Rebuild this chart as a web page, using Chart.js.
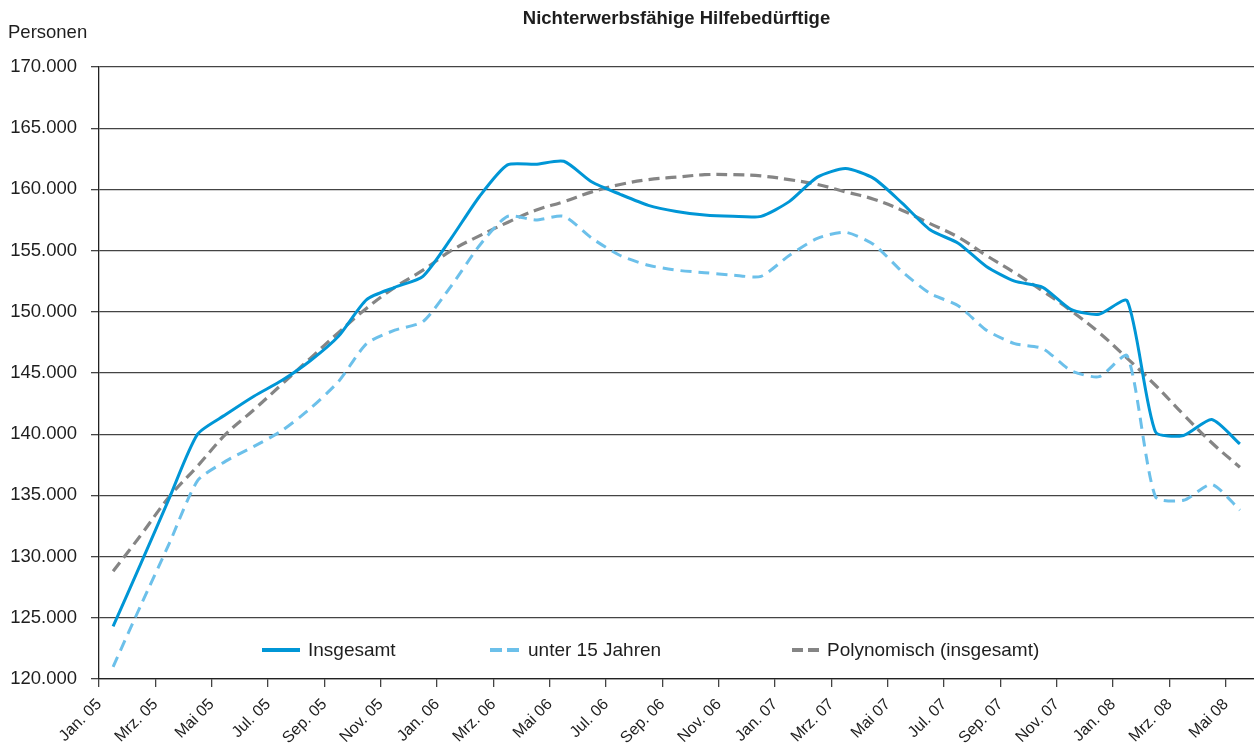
<!DOCTYPE html>
<html>
<head>
<meta charset="utf-8">
<script src="https://cdn.jsdelivr.net/npm/chart.js@4.4.1/dist/chart.umd.min.js"></script>
<style>
  html, body { margin: 0; padding: 0; background: #ffffff; }
  #wrap { width: 1254px; height: 752px; position: relative; }
</style>
</head>
<body>
<div id="wrap"><canvas id="c" width="1254" height="752"></canvas></div>
<script>
// ---- data ----
const chartTitle = 'Nichterwerbsfähige Hilfebedürftige';
const yAxisTitle = 'Personen';
const months = [
  'Jan. 05','Feb. 05','Mrz. 05','Apr. 05','Mai 05','Jun. 05','Jul. 05','Aug. 05','Sep. 05','Okt. 05','Nov. 05','Dez. 05',
  'Jan. 06','Feb. 06','Mrz. 06','Apr. 06','Mai 06','Jun. 06','Jul. 06','Aug. 06','Sep. 06','Okt. 06','Nov. 06','Dez. 06',
  'Jan. 07','Feb. 07','Mrz. 07','Apr. 07','Mai 07','Jun. 07','Jul. 07','Aug. 07','Sep. 07','Okt. 07','Nov. 07','Dez. 07',
  'Jan. 08','Feb. 08','Mrz. 08','Apr. 08','Mai 08'
];
const seriesNames = ['Insgesamt', 'unter 15 Jahren', 'Polynomisch (insgesamt)'];
const insgesamt = [
  124300, 129500, 134800, 140000, 141600, 143100, 144400, 146000, 148000, 151000, 152000, 152900,
  156000, 159400, 162000, 162050, 162300, 160600, 159600, 158700, 158200, 157900, 157800, 157800,
  159000, 161000, 161700, 160900, 158900, 156700, 155600, 153700, 152500, 152000, 150200, 149800,
  150900, 140200, 139900, 141200, 139200
];
const unter15 = [
  121000, 126100, 131100, 136200, 137800, 139000, 140300, 142100, 144300, 147400, 148500, 149200,
  152100, 155400, 157800, 157500, 157800, 156000, 154600, 153800, 153400, 153200, 153000, 152900,
  154600, 156000, 156500, 155500, 153300, 151500, 150500, 148500, 147400, 147000, 145200, 144700,
  146400, 134900, 134600, 135900, 133800
];
const polynomisch = [
  128800, 131800, 134900, 137400, 140000, 142000, 144100, 146200, 148300, 150300, 152000, 153400,
  155000, 156200, 157300, 158300, 159000, 159800, 160400, 160800, 161000, 161200, 161200, 161100,
  160800, 160400, 159800, 159200, 158300, 157200, 156100, 154600, 153200, 151700, 150100, 148300,
  146200, 144000, 141600, 139300, 137300
];
const yMin = 120000, yMax = 170000, yStep = 5000;

// ---- styles ----
const FONT = "'Liberation Sans', Arial, Helvetica, sans-serif";
const TEXT = '#1e1e1e';
const GRID = '#444444';
const C_BLUE = '#0096d6';
const C_LIGHT = '#6cc0ea';
const C_GRAY = '#858585';

function fmt(v) {
  return String(Math.round(v)).replace(/\B(?=(\d{3})+(?!\d))/g, '.');
}

const overlay = {
  id: 'overlay',
  afterDraw(chart) {
    const ctx = chart.ctx;
    const ca = chart.chartArea;
    ctx.save();
    // title centred over plot area
    ctx.fillStyle = TEXT;
    ctx.font = 'bold 18.5px ' + FONT;
    ctx.textAlign = 'center';
    ctx.textBaseline = 'middle';
    ctx.fillText(chartTitle, (ca.left + ca.right) / 2, 19);
    // y axis caption
    ctx.font = '18.5px ' + FONT;
    ctx.textAlign = 'left';
    ctx.fillText(yAxisTitle, 8, 33);
    // legend inside plot
    const ly = 650;
    const items = [
      { x: 262, w: 38, color: C_BLUE, dash: [], lw: 4 },
      { x: 490, w: 30, color: C_LIGHT, dash: [12, 5], lw: 4 },
      { x: 792, w: 27, color: C_GRAY, dash: [11, 5], lw: 4 }
    ];
    items.forEach((it, i) => {
      ctx.beginPath();
      ctx.setLineDash(it.dash);
      ctx.strokeStyle = it.color;
      ctx.lineWidth = it.lw;
      ctx.moveTo(it.x, ly);
      ctx.lineTo(it.x + it.w, ly);
      ctx.stroke();
      ctx.setLineDash([]);
      ctx.fillStyle = TEXT;
      ctx.font = '19px ' + FONT;
      ctx.textAlign = 'left';
      ctx.textBaseline = 'middle';
      ctx.fillText(seriesNames[i], it.x + it.w + 8, ly + 1);
    });
    ctx.restore();
  }
};

Chart.defaults.font.family = FONT;
Chart.defaults.color = TEXT;

new Chart(document.getElementById('c'), {
  type: 'line',
  data: {
    labels: months,
    datasets: [
      { label: seriesNames[0], data: insgesamt, borderColor: C_BLUE, borderWidth: 3, pointRadius: 0, tension: 0.22, fill: false },
      { label: seriesNames[1], data: unter15, borderColor: C_LIGHT, borderWidth: 3, borderDash: [11, 7], pointRadius: 0, tension: 0.22, fill: false },
      { label: seriesNames[2], data: polynomisch, borderColor: C_GRAY, borderWidth: 3.2, borderDash: [11, 6], pointRadius: 0, tension: 0.4, fill: false }
    ]
  },
  options: {
    responsive: false,
    animation: false,
    devicePixelRatio: 1,
    layout: { padding: { top: 67, right: 0, bottom: 0, left: 0 } },
    plugins: { legend: { display: false }, title: { display: false }, tooltip: { enabled: false } },
    scales: {
      x: {
        offset: true,
        grid: {
          offset: true,
          drawOnChartArea: false,
          drawTicks: true,
          tickLength: 8,
          lineWidth: 1.3,
          color: (c) => (c.type === 'tick' && c.index % 2 === 0) ? GRID : 'rgba(0,0,0,0)'
        },
        border: { display: true, color: '#222', width: 1.3 },
        ticks: {
          autoSkip: false,
          maxRotation: 45,
          minRotation: 45,
          labelOffset: -14,
          padding: 8,
          color: TEXT,
          font: { size: 16 },
          callback: (v, i) => (i % 2 === 0 ? months[i] : '')
        },
        afterFit: (s) => { s.height = 73; s.paddingLeft = 0; s.paddingRight = 0; }
      },
      y: {
        min: yMin,
        max: yMax,
        grid: { color: GRID, lineWidth: 1.3, tickLength: 8, drawTicks: true },
        border: { display: true, color: '#222', width: 1.3 },
        ticks: {
          stepSize: yStep,
          padding: 14,
          color: TEXT,
          font: { size: 18.5 },
          callback: (v) => fmt(v)
        },
        afterFit: (s) => { s.width = 99; }
      }
    }
  },
  plugins: [overlay]
});
</script>
</body>
</html>
